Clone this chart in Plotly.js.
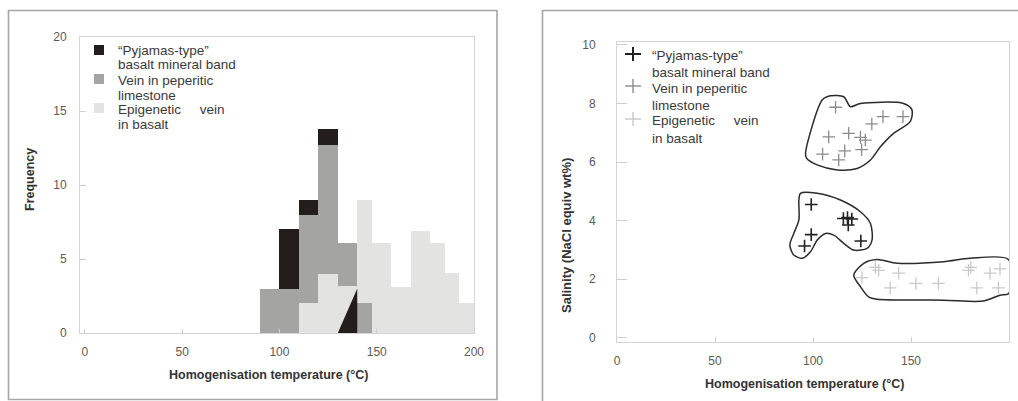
<!DOCTYPE html>
<html><head><meta charset="utf-8">
<script src="https://cdn.plot.ly/plotly-3.0.1.min.js"></script>
<style>html,body{margin:0;padding:0;background:#fff;} #chart{width:1018px;height:401px;}</style>
</head><body><div id="chart"></div>
<script>
// ---------- Left panel: frequency histogram (bins in °C, heights = frequency) ----------
const pyjamasBinStart = [100, 110, 120];
const pyjamasBinEnd   = [110, 120, 130];
const pyjamasBase     = [3, 8, 12.7];
const pyjamasTop      = [7, 9, 13.8];
const pyjamasWedgeX   = [130, 140, 140, 130];
const pyjamasWedgeY   = [0, 0, 3, 0];

const veinBinStart = [90, 100, 110, 120, 130, 140];
const veinBinEnd   = [100, 110, 120, 130, 140, 147.5];
const veinBase     = [0, 0, 2, 4, 3.2, 0];
const veinTop      = [3, 3, 8, 12.7, 6.1, 2];

const epiBinStart = [110, 120, 130, 140, 147.5, 157.5, 167.5, 177.5, 185, 192.5];
const epiBinEnd   = [120, 130, 140, 147.5, 157.5, 167.5, 177.5, 185, 192.5, 200];
const epiBase     = [0, 0, 0, 2, 0, 0, 0, 0, 0, 0];
const epiTop      = [2, 4, 3.2, 9, 6.1, 3.1, 6.9, 6.1, 4.05, 2];

// ---------- Right panel: salinity vs homogenisation temperature ----------
const pyjamasT = [99.1, 99.1, 95.7, 115.5, 117.6, 119.8, 118.0, 124.4];
const pyjamasS = [4.55, 3.52, 3.13, 4.07, 4.10, 4.05, 3.85, 3.30];

const veinT = [111.5, 108.0, 118.2, 124.2, 126.7, 130.0, 135.7, 145.9, 104.9, 113.1, 116.2, 124.8];
const veinS = [7.87, 6.86, 6.98, 6.84, 6.75, 7.30, 7.55, 7.55, 6.27, 6.07, 6.38, 6.42];

const epiT = [125.0, 131.8, 133.5, 143.7, 139.4, 152.5, 164.0, 179.3, 180.5, 183.6, 190.3, 195.4, 194.6];
const epiS = [2.05, 2.40, 2.30, 2.20, 1.70, 1.85, 1.85, 2.30, 2.40, 1.70, 2.20, 2.35, 1.70];

// hand-drawn group outlines
const veinOutlineT = [96.2,104.7,108.9,115.7,119.1,124.2,146.2,150.5,149.6,141.1,134.4,129.3,122.5,112.3,102.1,96.7,96.2];
const veinOutlineS = [6.30,8.12,8.26,8.23,7.89,8.00,8.00,7.78,7.38,6.98,6.52,6.07,5.78,5.73,5.90,6.13,6.30];
const pyjOutlineT = [93.6,102.1,114.0,124.2,129.3,130.1,127.6,120.8,115.7,110.6,106.4,102.1,98.7,94.5,90.2,88.2,90.2,92.8,92.8,93.6];
const pyjOutlineS = [4.93,4.93,4.70,4.30,3.90,3.33,3.05,2.99,3.22,3.50,3.56,3.33,2.93,2.71,2.82,3.16,3.56,4.02,4.70,4.93];
const epiOutlineT = [120.8,125.9,132.7,142.9,166.6,180.2,199.7,199.9,195.4,186.9,166.6,132.7,128.4,124.2,120.8];
const epiOutlineS = [2.14,2.54,2.67,2.54,2.59,2.71,2.67,1.51,1.45,1.25,1.28,1.31,1.39,1.74,2.14];

const legendLines = [
  ["\u201CPyjamas-type\u201D", "basalt mineral band"],
  ["Vein in peperitic", "limestone"],
  ["Epigenetic\u00a0\u00a0\u00a0\u00a0\u00a0vein", "in basalt"]
];
const xTicks = [0, 50, 100, 150, 200];

// ---------- colours ----------
const cBlack = '#231e1b', cGray = '#a4a4a2', cLight = '#e3e3e1';
const mBlack = '#222222', mGray = '#8c8c8c', mLight = '#c9c9c9';
const FONT = 'Liberation Sans, Arial, Helvetica, sans-serif';

const W = 1018, H = 401;
const fx = p => p / W, fy = p => 1 - p / H;

function barTrace(s, e, b, t, color, xa, ya) {
  return {
    type: 'bar', xaxis: xa, yaxis: ya,
    x: s.map((v, i) => (v + e[i]) / 2),
    width: s.map((v, i) => e[i] - v),
    base: b, y: t.map((v, i) => v - b[i]),
    marker: {color: color, line: {width: 0}},
    showlegend: false, hoverinfo: 'skip'
  };
}
function outline(tx, sy) {
  return {type: 'scatter', mode: 'lines', x: tx, y: sy, xaxis: 'x2', yaxis: 'y2',
    line: {color: '#2b2b2b', width: 1.5, shape: 'spline', smoothing: 0.8},
    showlegend: false, hoverinfo: 'skip'};
}
function crosses(tx, sy, color, w) {
  return {type: 'scatter', mode: 'markers', x: tx, y: sy, xaxis: 'x2', yaxis: 'y2',
    marker: {symbol: 'cross-thin-open', size: 9, color: color, line: {color: color, width: w}},
    showlegend: false, hoverinfo: 'skip', cliponaxis: false};
}

const traces = [
  barTrace(epiBinStart, epiBinEnd, epiBase, epiTop, cLight, 'x', 'y'),
  barTrace(veinBinStart, veinBinEnd, veinBase, veinTop, cGray, 'x', 'y'),
  barTrace(pyjamasBinStart, pyjamasBinEnd, pyjamasBase, pyjamasTop, cBlack, 'x', 'y'),
  {type: 'scatter', mode: 'lines', x: pyjamasWedgeX, y: pyjamasWedgeY, xaxis: 'x', yaxis: 'y',
   fill: 'toself', fillcolor: cBlack, line: {width: 0, color: cBlack}, showlegend: false, hoverinfo: 'skip'},
  outline(veinOutlineT, veinOutlineS),
  outline(pyjOutlineT, pyjOutlineS),
  outline(epiOutlineT, epiOutlineS),
  crosses(epiT, epiS, mLight, 1.3),
  crosses(veinT, veinS, mGray, 1.3),
  crosses(pyjamasT, pyjamasS, mBlack, 1.6)
];

const axisCommon = {
  showgrid: false, zeroline: false, showline: true, mirror: true,
  linecolor: '#d4d4d4', linewidth: 1, ticks: 'inside', tickcolor: '#cfcfcf',
  tickfont: {family: FONT, size: 12, color: '#5a5a5a'}, fixedrange: true
};

const annotations = [];
const shapes = [];
function txt(x, y, t, opts) {
  annotations.push(Object.assign({xref: 'paper', yref: 'paper', x: fx(x), y: fy(y), text: t,
    showarrow: false, xanchor: 'left', yanchor: 'middle',
    font: {family: FONT, size: 13.5, color: '#3a3a3a'}}, opts || {}));
}
// legends
const leftRows = [[51, 64], [80, 95], [109, 124]];
const rightRows = [[56, 72], [88, 105], [121, 138]];
const sqColors = [cBlack, cGray, cLight];
const crColors = [mBlack, mGray, mLight];
legendLines.forEach((lines, i) => {
  txt(116, leftRows[i][0], lines[0]);
  txt(116, leftRows[i][1], lines[1]);
  txt(650, rightRows[i][0], lines[0]);
  txt(650, rightRows[i][1], lines[1]);
  const cy = leftRows[i][0] - 1;
  shapes.push({type: 'rect', xref: 'paper', yref: 'paper', x0: fx(94), x1: fx(104), y0: fy(cy + 5), y1: fy(cy - 5),
    fillcolor: sqColors[i], line: {width: 0}});
  const ry = rightRows[i][0] - 2;
  const lw = i === 0 ? 2 : 1.4;
  shapes.push({type: 'line', xref: 'paper', yref: 'paper', x0: fx(625), x1: fx(641), y0: fy(ry), y1: fy(ry),
    line: {color: crColors[i], width: lw}});
  shapes.push({type: 'line', xref: 'paper', yref: 'paper', x0: fx(633), x1: fx(633), y0: fy(ry - 7), y1: fy(ry + 7),
    line: {color: crColors[i], width: lw}});
});
// axis titles
const tFont = {family: FONT, size: 12.5, color: '#333333', weight: 'bold'};
annotations.push({xref: 'paper', yref: 'paper', x: fx(268), y: fy(375), text: '<b>Homogenisation temperature (°C)</b>',
  showarrow: false, xanchor: 'center', yanchor: 'middle', font: tFont});
annotations.push({xref: 'paper', yref: 'paper', x: fx(804), y: fy(384), text: '<b>Homogenisation temperature (°C)</b>',
  showarrow: false, xanchor: 'center', yanchor: 'middle', font: tFont});
annotations.push({xref: 'paper', yref: 'paper', x: fx(30), y: fy(180), text: '<b>Frequency</b>', textangle: -90,
  showarrow: false, xanchor: 'center', yanchor: 'middle', font: tFont});
annotations.push({xref: 'paper', yref: 'paper', x: fx(566), y: fy(236), text: '<b>Salinity (NaCl equiv wt%)</b>', textangle: -90,
  showarrow: false, xanchor: 'center', yanchor: 'middle', font: {family: FONT, size: 13, color: '#333333', weight: 'bold'}});
// panel frames
shapes.push({type: 'rect', xref: 'paper', yref: 'paper', x0: fx(8.5), x1: fx(497), y0: fy(399.5), y1: fy(10.5),
  line: {color: '#a6a6a6', width: 1.6}, layer: 'below'});
shapes.push({type: 'rect', xref: 'paper', yref: 'paper', x0: fx(542.5), x1: 1.02, y0: -0.02, y1: fy(10.5),
  line: {color: '#a6a6a6', width: 1.6}, layer: 'below'});

const layout = {
  width: W, height: H, margin: {l: 0, r: 0, t: 0, b: 0},
  paper_bgcolor: '#ffffff', plot_bgcolor: '#ffffff',
  barmode: 'overlay', bargap: 0, showlegend: false,
  font: {family: FONT},
  xaxis: Object.assign({}, axisCommon, {domain: [fx(80), fx(474)], range: [-2.5, 200], tickvals: xTicks,
    ticklen: 4, anchor: 'y', ticklabelstandoff: 8}),
  yaxis: Object.assign({}, axisCommon, {domain: [fy(333), fy(37)], range: [0, 20], dtick: 5,
    ticklen: 6, anchor: 'x', ticklabelstandoff: 10}),
  xaxis2: Object.assign({}, axisCommon, {domain: [fx(617), fx(1009)], range: [0, 200], tickvals: xTicks,
    ticklen: 5, anchor: 'y2', ticklabelstandoff: 8}),
  yaxis2: Object.assign({}, axisCommon, {domain: [fy(342), fy(42)], range: [-0.15, 10.1], dtick: 2,
    ticklen: 10, anchor: 'x2', ticklabelstandoff: 18}),
  shapes: shapes, annotations: annotations
};

Plotly.newPlot('chart', traces, layout, {displayModeBar: false, staticPlot: true});
</script></body></html>
